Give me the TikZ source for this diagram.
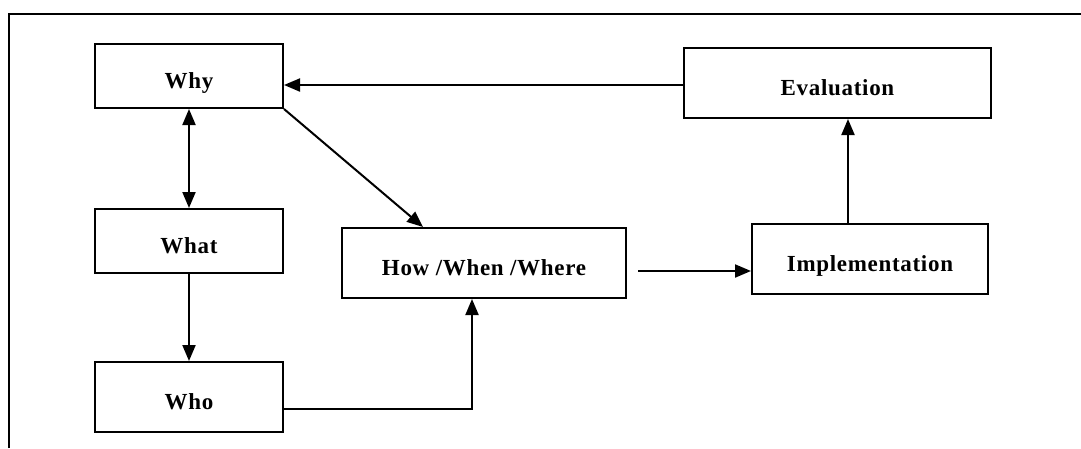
\documentclass[tikz,border=0pt]{standalone}
\usepackage{fontspec}
\setmainfont{Liberation Serif}
\newfontfamily\boxfont[LetterSpace=3]{Liberation Serif}
\usetikzlibrary{arrows.meta}

\begin{document}
\begin{tikzpicture}[x=1pt,y=-1pt,
  box/.style={draw, line width=2pt, inner sep=0pt,
    font=\boxfont\bfseries\fontsize{23}{27}\selectfont,
    text height=29pt, text depth=4pt},
  tip/.style={Triangle[length=16pt,width=13pt]},
  link/.style={line width=2pt, -{Triangle[length=16pt,width=13pt]}},
  biglink/.style={line width=2pt, {Triangle[length=16pt,width=13pt]}-{Triangle[length=16pt,width=13pt]}}]
\useasboundingbox (0,0) rectangle (1081,448);
\fill[white] (0,0) rectangle (1081,448);

% outer frame (open at right and bottom)
\draw[line width=2pt] (9,448) -- (9,14) -- (1081,14);

% boxes
\node[box, minimum width=188pt, minimum height=64pt] (why)  at (189,76)  {Why};
\node[box, minimum width=188pt, minimum height=64pt] (what) at (189,241) {What};
\node[box, minimum width=188pt, minimum height=70pt] (who)  at (189,397) {Who};
\node[box, minimum width=284pt, minimum height=70pt] (how)  at (484,263) {How /When /Where};
\node[box, minimum width=236pt, minimum height=70pt] (impl) at (870,259) {Implementation};
\node[box, minimum width=307pt, minimum height=70pt] (eval) at (837.5,83) {Evaluation};

% connectors
\draw[biglink] (why.south) -- (what.north);
\draw[link] (what.south) -- (who.north);
\draw[link] ([yshift=-12pt]who.east) -| ([xshift=-12pt]how.south);
\draw[link] (why.south east) -- ([xshift=-61pt]how.north);
\draw[link] ([xshift=11pt,yshift=-8pt]how.east) -- ([yshift=-8pt]how.east -| impl.west);
\draw[link] ([xshift=-22pt]impl.north) -- ([xshift=-22pt]impl.north |- eval.south);
\draw[link] ([yshift=-2pt]eval.west) -- ([yshift=-2pt]eval.west -| why.east);
\end{tikzpicture}
\end{document}
